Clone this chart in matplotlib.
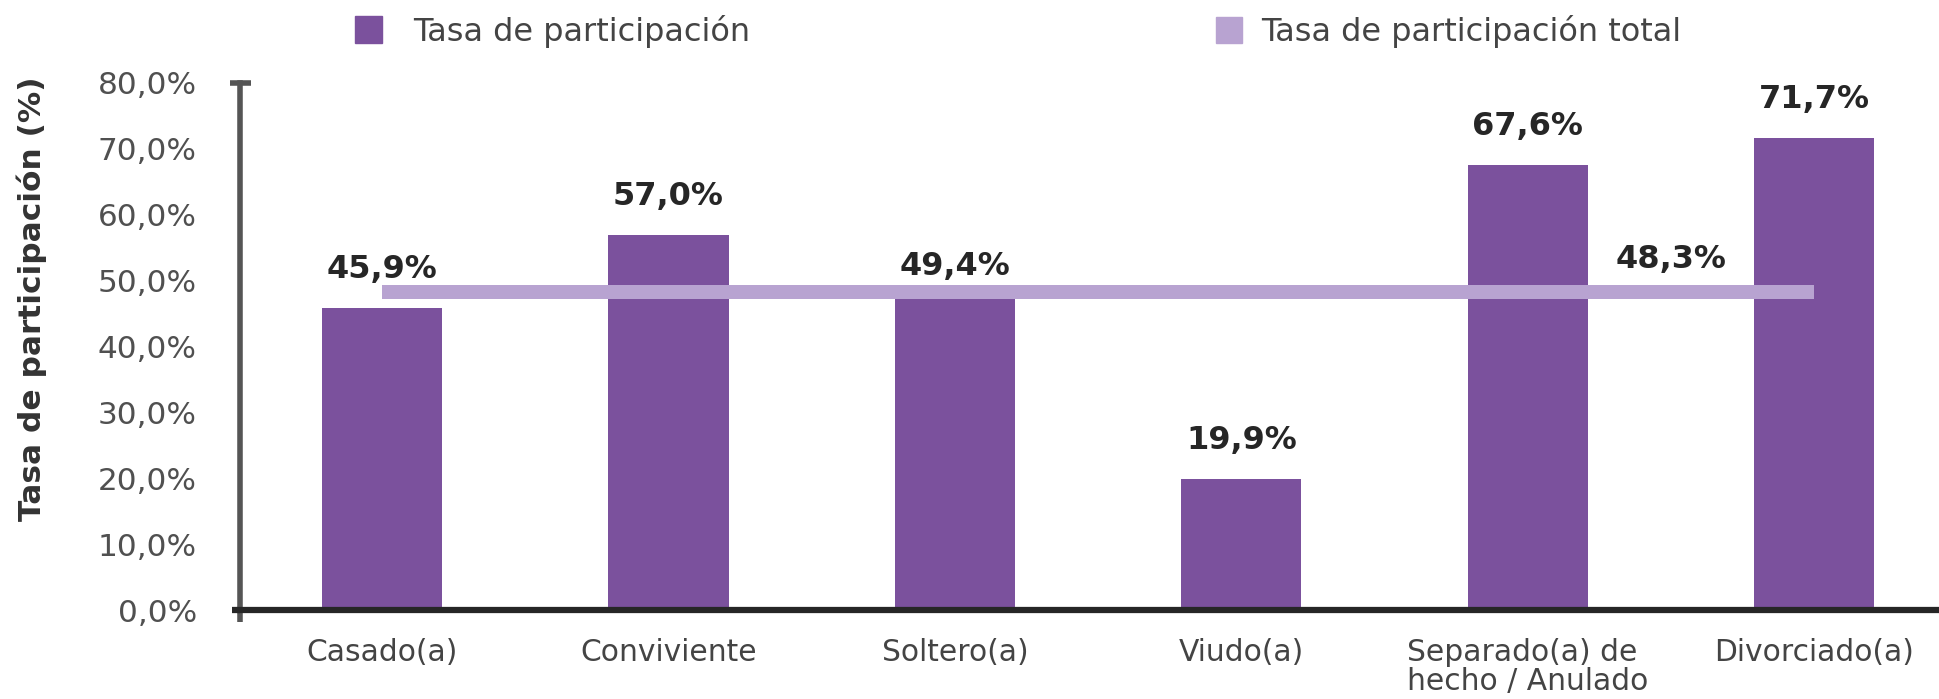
# Tasa de participación según estado civil
import matplotlib.pyplot as plt
from matplotlib.patches import Rectangle
from matplotlib.ticker import FuncFormatter

# Datos
categorias = ["Casado(a)", "Conviviente", "Soltero(a)", "Viudo(a)",
              "Separado(a) de\nhecho / Anulado", "Divorciado(a)"]
tasa = [45.9, 57.0, 49.4, 19.9, 67.6, 71.7]
tasa_total = 48.3
yticks = [0, 10, 20, 30, 40, 50, 60, 70, 80]

# Estilo
morado = "#7B519D"
lila = "#B8A3D1"
W, H = 1939, 699
pt = 0.72  # puntos por pixel a dpi 100

def pct(v):
    return f"{v:.1f}".replace(".", ",") + "%"

fig = plt.figure(figsize=(W / 100, H / 100), dpi=100)
ax = fig.add_axes([240 / W, 1 - 610 / H, (W - 240) / W, (610 - 83) / H])

x = list(range(len(categorias)))
ax.bar(x, tasa, width=0.42, color=morado, zorder=2)
ax.plot([x[0], x[-1]], [tasa_total, tasa_total], color=lila, lw=14 * pt,
        solid_capstyle="butt", zorder=3)

# Etiquetas de valores
offsets = [38, 38, 18, 38, 38, 38]
for xi, v, off in zip(x, tasa, offsets):
    ax.annotate(pct(v), (xi, v), xytext=(0, off * pt), textcoords="offset points",
                ha="center", va="center", fontsize=23, fontweight="bold", color="#262626")
ax.annotate(pct(tasa_total), (4.5, tasa_total), xytext=(0, 32 * pt),
            textcoords="offset points", ha="center", va="center",
            fontsize=23, fontweight="bold", color="#262626")

ax.set_xlim(-0.496, 5.436)
ax.set_ylim(0, 80)
ax.set_yticks(yticks)
ax.yaxis.set_major_formatter(FuncFormatter(lambda v, p: pct(v)))
ax.set_xticks(x)
ax.set_xticklabels(categorias, fontsize=21.4, color="#444444")
for lab in ax.get_xticklabels():
    lab.set_multialignment("left")
    lab.set_linespacing(1.0)
ax.tick_params(axis="y", length=0, pad=31, labelsize=22.4, labelcolor="#505050")
ax.tick_params(axis="x", length=0, pad=20)

for s in ["top", "right"]:
    ax.spines[s].set_visible(False)
ax.spines["left"].set_color("#555555")
ax.spines["left"].set_linewidth(4)
ax.spines["bottom"].set_color("#262626")
ax.spines["bottom"].set_linewidth(4.5)
# prolongaciones de los ejes
ax.plot([0, 0], [0, -12 / 527], transform=ax.transAxes, color="#555555",
        lw=4, clip_on=False, solid_capstyle="butt")
ax.plot([-8 / 1699, 0], [0, 0], transform=ax.transAxes, color="#262626",
        lw=4.5, clip_on=False, solid_capstyle="butt")
ax.plot([-10 / 1699, 11 / 1699], [1, 1], transform=ax.transAxes, color="#555555",
        lw=4, clip_on=False, solid_capstyle="butt")

fig.text(32 / W, 1 - 299 / H, "Tasa de participación (%)", rotation=90,
         ha="center", va="center", fontsize=22.5, fontweight="bold", color="#333333")

# Leyenda
fig.add_artist(Rectangle((355 / W, 1 - 43 / H), 27 / W, 27 / H,
                         transform=fig.transFigure, color=morado))
fig.text(413 / W, 1 - 31 / H, "Tasa de participación", ha="left", va="center",
         fontsize=23, color="#444444")
fig.add_artist(Rectangle((1216 / W, 1 - 43 / H), 26 / W, 26 / H,
                         transform=fig.transFigure, color=lila))
fig.text(1261 / W, 1 - 31 / H, "Tasa de participación total", ha="left", va="center",
         fontsize=23, color="#444444")

fig.savefig("out.png", dpi=100)
